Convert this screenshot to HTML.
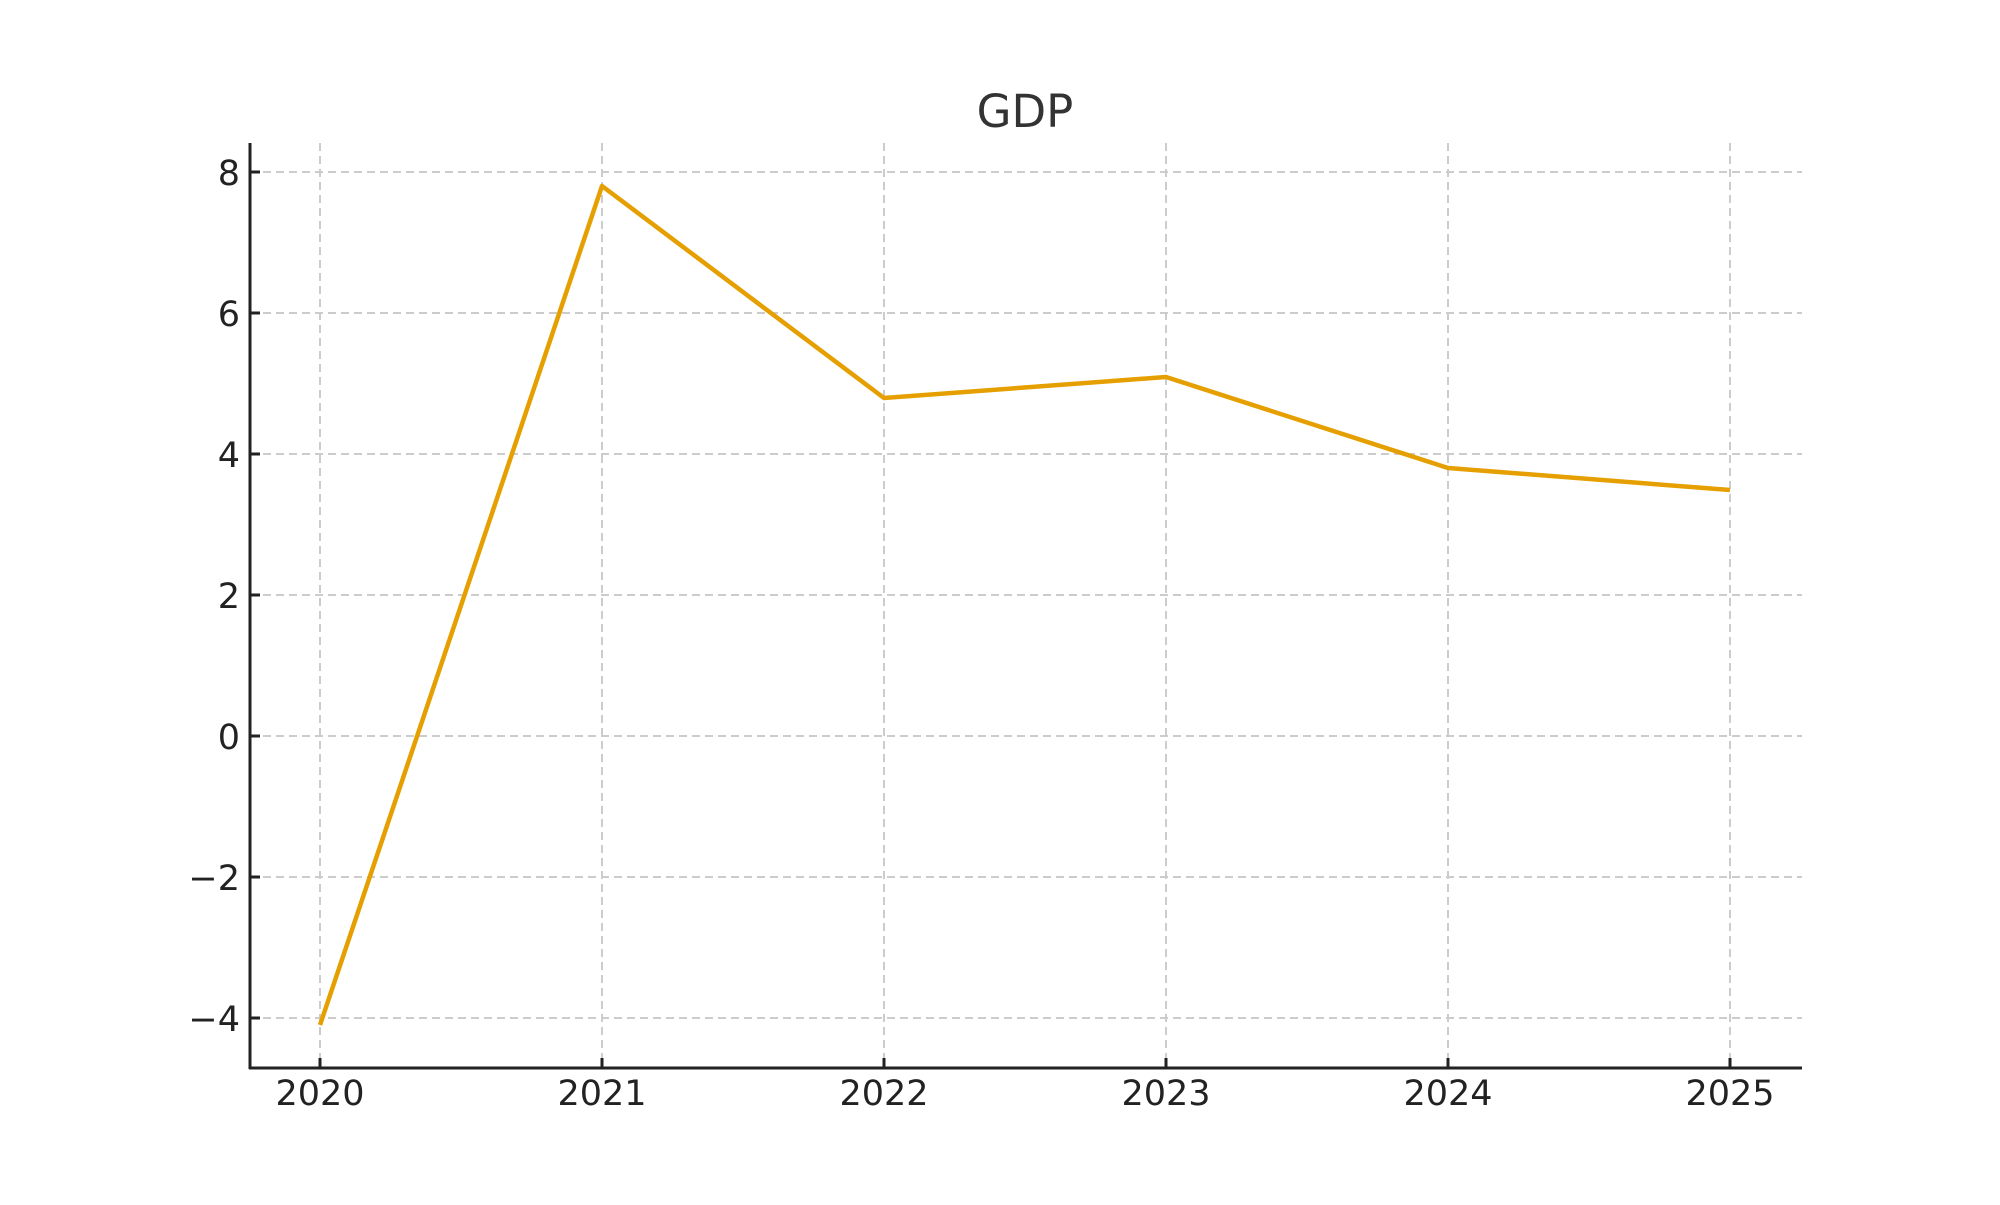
<!DOCTYPE html>
<html><head><style>body{margin:0;background:#fff}</style></head><body>
<svg width="2000" height="1200" xmlns="http://www.w3.org/2000/svg" font-family="DejaVu Sans, Liberation Sans, sans-serif">
<rect width="2000" height="1200" fill="#fff"/>
<g stroke="#cccccc" stroke-width="2" stroke-dasharray="8,5">
<line x1="320" y1="143" x2="320" y2="1068"/><line x1="602" y1="143" x2="602" y2="1068"/><line x1="884" y1="143" x2="884" y2="1068"/><line x1="1166" y1="143" x2="1166" y2="1068"/><line x1="1448" y1="143" x2="1448" y2="1068"/><line x1="1730" y1="143" x2="1730" y2="1068"/>
<line x1="250" y1="172" x2="1802" y2="172"/><line x1="250" y1="313" x2="1802" y2="313"/><line x1="250" y1="454" x2="1802" y2="454"/><line x1="250" y1="595" x2="1802" y2="595"/><line x1="250" y1="736" x2="1802" y2="736"/><line x1="250" y1="877" x2="1802" y2="877"/><line x1="250" y1="1018" x2="1802" y2="1018"/>
</g>
<polyline fill="none" stroke="#e69f00" stroke-width="4.5" stroke-linejoin="round" points="320,1025 602,186 884,398 1166,377 1448,468 1730,490"/>
<g stroke="#222" stroke-width="3">
<line x1="250" y1="143" x2="250" y2="1069"/><line x1="249" y1="1068" x2="1802" y2="1068"/>
<line x1="250" y1="172" x2="260" y2="172"/><line x1="250" y1="313" x2="260" y2="313"/><line x1="250" y1="454" x2="260" y2="454"/><line x1="250" y1="595" x2="260" y2="595"/><line x1="250" y1="736" x2="260" y2="736"/><line x1="250" y1="877" x2="260" y2="877"/><line x1="250" y1="1018" x2="260" y2="1018"/>
<line x1="320" y1="1068" x2="320" y2="1058"/><line x1="602" y1="1068" x2="602" y2="1058"/><line x1="884" y1="1068" x2="884" y2="1058"/><line x1="1166" y1="1068" x2="1166" y2="1058"/><line x1="1448" y1="1068" x2="1448" y2="1058"/><line x1="1730" y1="1068" x2="1730" y2="1058"/>
</g>
<g fill="#222" font-size="35" text-anchor="end">
<text x="240" y="185">8</text><text x="240" y="326">6</text><text x="240" y="467">4</text><text x="240" y="608">2</text><text x="240" y="749">0</text><text x="240" y="890">−2</text><text x="240" y="1031">−4</text>
</g>
<g fill="#222" font-size="35" text-anchor="middle">
<text x="320" y="1105">2020</text><text x="602" y="1105">2021</text><text x="884" y="1105">2022</text><text x="1166" y="1105">2023</text><text x="1448" y="1105">2024</text><text x="1730" y="1105">2025</text>
</g>
<text x="1025" y="127" font-size="45" fill="#333" text-anchor="middle">GDP</text>
</svg>
</body></html>
